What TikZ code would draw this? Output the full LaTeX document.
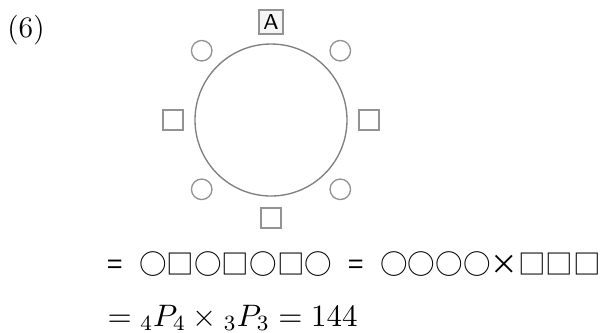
\documentclass[tikz,border=0pt]{standalone}
\usepackage{fix-cm}
\usepackage{fontspec}
\newfontfamily\jpfont{Noto Sans CJK JP}
\usetikzlibrary{calc}

\begin{document}
\begin{tikzpicture}[x=0.3704pt,y=-0.3704pt,font=\fontsize{11.5}{14}\selectfont,
  seatc/.style={draw=gray!85,line width=0.5pt,circle,minimum size=7.6pt,inner sep=0pt},
  seats/.style={draw=gray!85,line width=0.5pt,rectangle,minimum size=7.4pt,inner sep=0pt},
  seata/.style={draw=gray!85,line width=0.8pt,fill=gray!8,minimum size=9pt,inner sep=0pt,font=\footnotesize\sffamily},
  eqline/.style={anchor=base west,inner sep=0pt}]
  \useasboundingbox (0,0) rectangle (605,332);
  \node[anchor=center,font=\fontsize{11}{13}\selectfont] (num) at (26,30) {(6)};
  % round table and the eight seats
  \node[draw=gray,line width=0.5pt,circle,minimum size=56.3pt,inner sep=0pt] (tbl) at (271,120) {};
  \node[seata] (a) at ($(tbl.center)+(-90:98)$) {A};
  \foreach \ang/\kind [count=\i] in {-45/seatc,0/seats,45/seatc,90/seats,135/seatc,180/seats,225/seatc}
    \node[\kind] (s\i) at ($(tbl.center)+(\ang:98)$) {};
  % the count
  \node[eqline,font=\fontsize{10.2}{12}\selectfont\jpfont] (l1) at (107,274) {=\hspace{0.6em}○□○□○□○\hspace{0.6em}=\hspace{0.6em}○○○○×□□□};
  \node[eqline] (l2) at (107,326) {$={}_4P_4\times{}_3P_3=144$};
\end{tikzpicture}
\end{document}
